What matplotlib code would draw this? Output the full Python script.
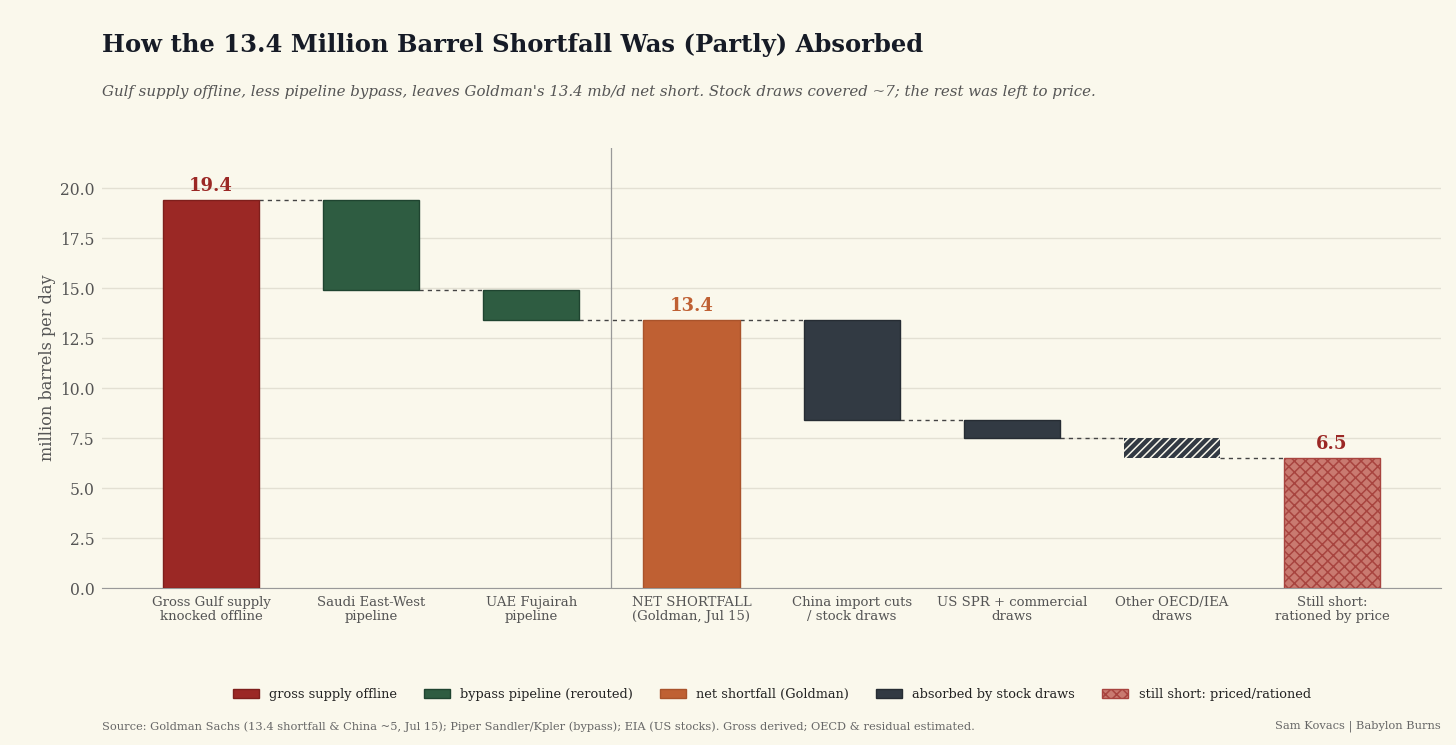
import matplotlib
matplotlib.use("Agg")
import matplotlib.pyplot as plt
from matplotlib.patches import Patch

categories = ["Gross Gulf supply\nknocked offline", "Saudi East-West\npipeline", "UAE Fujairah\npipeline",
              "NET SHORTFALL\n(Goldman, Jul 15)", "China import cuts\n/ stock draws", "US SPR + commercial\ndraws",
              "Other OECD/IEA\ndraws", "Still short:\nrationed by price"]
# signed changes; totals marked by kind
values = [19.4, -4.5, -1.5, 13.4, -5.0, -0.9, -1.0, 6.5]
kinds = ["total", "delta", "delta", "total", "delta", "delta", "delta", "total"]
groups = ["gross", "bypass", "bypass", "net", "stock", "stock", "stock_other", "short"]
labels_shown = {0: "19.4", 3: "13.4", 7: "6.5"}
yticks = [0, 2.5, 5, 7.5, 10, 12.5, 15, 17.5, 20]
legend_labels = ["gross supply offline", "bypass pipeline (rerouted)", "net shortfall (Goldman)",
                 "absorbed by stock draws", "still short: priced/rationed"]

BG = "#FAF8EC"
styles = {
    "gross": dict(facecolor="#9B2825", edgecolor="#7E1F1C", hatch=None),
    "bypass": dict(facecolor="#2E5C41", edgecolor="#1F4430", hatch=None),
    "net": dict(facecolor="#BF6033", edgecolor="#A9532B", hatch=None),
    "stock": dict(facecolor="#323A43", edgecolor="#262C33", hatch=None),
    "stock_other": dict(facecolor="#323A43", edgecolor=BG, hatch="////"),
    "short": dict(facecolor="#C97A70", edgecolor="#A8443F", hatch="xxx"),
}
label_colors = {0: "#9B2825", 3: "#BF6033", 7: "#9B2825"}

plt.rcParams["font.family"] = ["DejaVu Serif"]
plt.rcParams["hatch.linewidth"] = 1.1

fig = plt.figure(figsize=(14.56, 7.45), dpi=100, facecolor=BG)
ax = fig.add_axes([0.0701, 0.2107, 0.9196, 0.5906])
ax.set_facecolor(BG)

width = 0.6
level = 0.0
bottoms, heights, ends = [], [], []
for v, k in zip(values, kinds):
    if k == "total":
        bottoms.append(0.0)
        heights.append(v)
        level = v
    else:
        new = level + v
        bottoms.append(min(level, new))
        heights.append(abs(v))
        level = new
    ends.append(level)

x = list(range(len(categories)))
for i in x:
    st = styles[groups[i]]
    if groups[i] == "stock_other":
        ax.bar(i, heights[i], bottom=bottoms[i], width=width, color=st["facecolor"],
               edgecolor=BG, hatch=st["hatch"], linewidth=0, zorder=3)
    else:
        ax.bar(i, heights[i], bottom=bottoms[i], width=width, facecolor=st["facecolor"],
               edgecolor=st["edgecolor"], hatch=st["hatch"], linewidth=1, zorder=3)

# connectors
for i in range(len(x) - 1):
    ax.plot([i + width / 2, i + 1 - width / 2], [ends[i], ends[i]], color="#444444",
            linestyle=(0, (3, 3)), linewidth=1, zorder=2)

for i, t in labels_shown.items():
    ax.text(i, bottoms[i] + heights[i] + 0.25, t, ha="center", va="bottom", fontsize=13,
            fontweight="bold", color=label_colors[i])

ax.axvline(2.5, color="#999999", linewidth=0.9, zorder=1)

ax.set_ylim(0, 22)
ax.set_xlim(-0.68, 7.68)
ax.set_yticks(yticks)
ax.set_yticklabels([f"{t:.1f}" for t in yticks])
ax.set_xticks(x)
ax.set_xticklabels(categories, fontsize=9.5, color="#555555", linespacing=1.1)
ax.tick_params(axis="y", length=0, pad=5.2, labelsize=11.2, labelcolor="#555555")
ax.tick_params(axis="x", length=0, pad=6)
ax.grid(axis="y", color="#E3E0D3", linewidth=1, zorder=0)
ax.set_axisbelow(True)
for s in ["left", "right", "top"]:
    ax.spines[s].set_visible(False)
ax.spines["bottom"].set_color("#999999")
ax.set_ylabel("million barrels per day", fontsize=11.6, color="#555555", labelpad=3)

fig.text(0.0701, 0.94, "How the 13.4 Million Barrel Shortfall Was (Partly) Absorbed",
         fontsize=17.5, fontweight="bold", color="#161B26", ha="left", va="center")
fig.text(0.0701, 0.877,
         "Gulf supply offline, less pipeline bypass, leaves Goldman's 13.4 mb/d net short. Stock draws covered ~7; the rest was left to price.",
         fontsize=10.8, style="italic", color="#555555", ha="left", va="center")

handles = [
    Patch(facecolor=styles["gross"]["facecolor"], edgecolor=styles["gross"]["edgecolor"]),
    Patch(facecolor=styles["bypass"]["facecolor"], edgecolor=styles["bypass"]["edgecolor"]),
    Patch(facecolor=styles["net"]["facecolor"], edgecolor=styles["net"]["edgecolor"]),
    Patch(facecolor=styles["stock"]["facecolor"], edgecolor=styles["stock"]["edgecolor"]),
    Patch(facecolor=styles["short"]["facecolor"], edgecolor=styles["short"]["edgecolor"], hatch="xxx"),
]
leg = fig.legend(handles, legend_labels, loc="center", bbox_to_anchor=(0.530, 0.068), ncol=5,
                 frameon=False, fontsize=9.3, handlelength=2.0, handleheight=0.7, columnspacing=2.1,
                 handletextpad=0.8)
for t in leg.get_texts():
    t.set_color("#222222")

fig.text(0.0701, 0.025,
         "Source: Goldman Sachs (13.4 shortfall & China ~5, Jul 15); Piper Sandler/Kpler (bypass); EIA (US stocks). Gross derived; OECD & residual estimated.",
         fontsize=8.2, color="#666666", ha="left", va="center")
fig.text(0.9897, 0.025, "Sam Kovacs | Babylon Burns", fontsize=8.2, color="#666666", ha="right", va="center")

fig.savefig("out.png", dpi=100, facecolor=BG)
